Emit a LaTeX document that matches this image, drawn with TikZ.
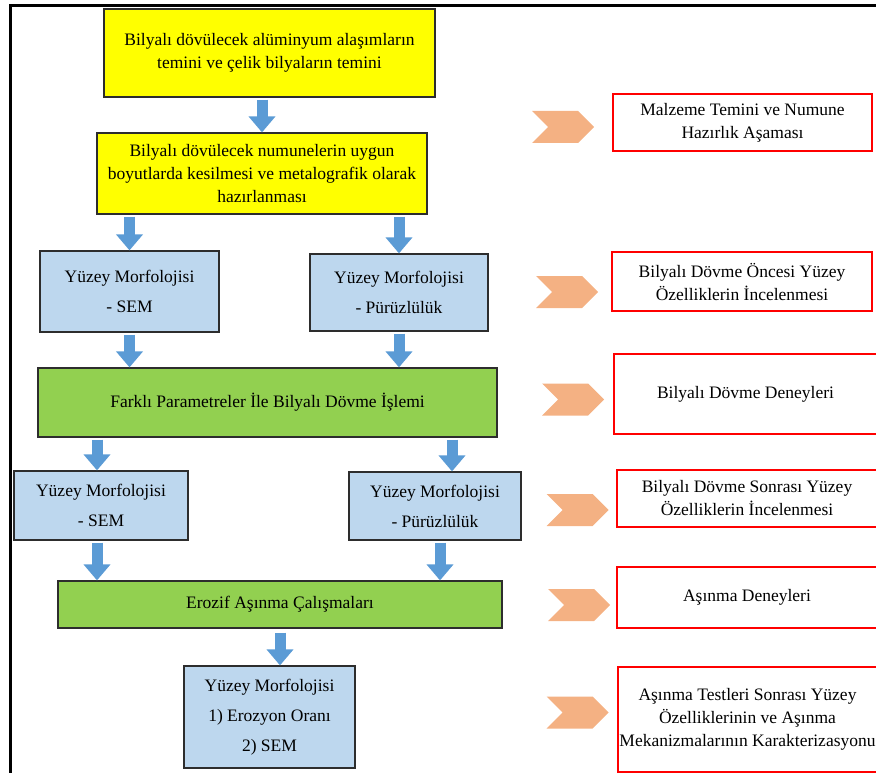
\documentclass[tikz,border=0pt]{standalone}
\usepackage{fontspec}
\setmainfont{Liberation Serif}
\usepackage{tikz}
\usetikzlibrary{arrows.meta, shapes.symbols}
\definecolor{boxyellow}{RGB}{255,255,0}
\definecolor{boxblue}{RGB}{189,215,238}
\definecolor{boxgreen}{RGB}{146,208,80}
\definecolor{arrblue}{RGB}{91,155,213}
\definecolor{chevorange}{RGB}{244,177,131}
\definecolor{edgegray}{RGB}{45,45,45}
\definecolor{stagered}{RGB}{255,0,0}

\begin{document}
\begin{tikzpicture}[x=1pt, y=-1pt,
  ybox/.style={rectangle, draw=edgegray, fill=boxyellow, line width=1.2pt,
               align=center, inner sep=0pt, font=\fontsize{17.5}{23}\selectfont},
  bbox/.style={rectangle, draw=edgegray, fill=boxblue, line width=1.2pt,
               align=center, inner sep=0pt, font=\fontsize{17.5}{30}\selectfont},
  gbox/.style={rectangle, draw=edgegray, fill=boxgreen, line width=1.2pt,
               align=center, inner sep=0pt, font=\fontsize{17.5}{23}\selectfont},
  rbox/.style={rectangle, draw=stagered, line width=1.2pt,
               align=center, inner sep=0pt, font=\fontsize{17.5}{23}\selectfont},
  chev/.style={signal, signal from=west, signal to=east, fill=chevorange,
               inner sep=0pt, minimum width=62pt, minimum height=32pt},
  blk/.style={-{Triangle[width=26pt, length=16pt]}, line width=11pt,
              draw=arrblue, shorten <=2pt},
  frame/.style={line width=3pt, draw=black}
]
\useasboundingbox (0,0) rectangle (876,773);

% page frame
\draw[frame] (10.5,773) -- (10.5,5.5) -- (877,5.5);

% main flow
\node[ybox, minimum width=331pt, minimum height=88pt] (yb1) at (269.5,53)
  {Bilyalı dövülecek alüminyum alaşımların\\temini ve çelik bilyaların temini};
\node[ybox, minimum width=330pt, minimum height=81pt] (yb2) at (262,173.5)
  {Bilyalı dövülecek numunelerin uygun\\boyutlarda kesilmesi ve metalografik olarak\\hazırlanması};
\node[bbox, minimum width=179pt, minimum height=81pt] (sem1) at (129.5,291.5)
  {Yüzey Morfolojisi\\- SEM};
\node[bbox, minimum width=178pt, minimum height=77pt] (pur1) at (399,292.5)
  {Yüzey Morfolojisi\\- Pürüzlülük};
\node[gbox, minimum width=459pt, minimum height=69pt] (gr1) at (267.5,402.5)
  {Farklı Parametreler İle Bilyalı Dövme İşlemi};
\node[bbox, minimum width=174pt, minimum height=69pt] (sem2) at (101,505.5)
  {Yüzey Morfolojisi\\- SEM};
\node[bbox, minimum width=172pt, minimum height=68pt] (pur2) at (435,506)
  {Yüzey Morfolojisi\\- Pürüzlülük};
\node[gbox, minimum width=444pt, minimum height=47pt] (gr2) at (280,604.5)
  {Erozif Aşınma Çalışmaları};
\node[bbox, minimum width=171pt, minimum height=102pt] (sem3) at (269.5,717)
  {Yüzey Morfolojisi\\1) Erozyon Oranı\\2) SEM};

\draw[blk] (yb1.south -| yb2) -- (yb2);
\draw[blk] (yb2.south -| sem1) -- (sem1);
\draw[blk] (yb2.south -| pur1) -- (pur1);
\draw[blk] (sem1) -- (sem1 |- gr1.north);
\draw[blk] (pur1) -- (pur1 |- gr1.north);
\draw[blk] ([xshift=-4pt]gr1.south -| sem2) -- ([xshift=-4pt]sem2.north);
\draw[blk] ([xshift=17pt]gr1.south -| pur2) -- ([xshift=17pt]pur2.north);
\draw[blk] ([xshift=-4pt]sem2.south) -- ([xshift=-4pt]sem2.south |- gr2.north);
\draw[blk] ([xshift=5pt]pur2.south) -- ([xshift=5pt]pur2.south |- gr2.north);
\draw[blk] ([yshift=-2pt]gr2.south) -- (gr2.south |- sem3.north);

% stages on the right
\node[chev] (chv1) at (563,127) {};
\node[chev] (chv2) at (567,292) {};
\node[chev] (chv3) at (573,399.5) {};
\node[chev] (chv4) at (577.5,510) {};
\node[chev] (chv5) at (579,605) {};
\node[chev] (chv6) at (577.5,712.5) {};

\node[rbox, minimum width=259pt, minimum height=57pt] (st1) at (742.5,122.5)
  {Malzeme Temini ve Numune\\Hazırlık Aşaması};
\node[rbox, minimum width=260pt, minimum height=59pt] (st2) at (742,281.5)
  {Bilyalı Dövme Öncesi Yüzey\\Özelliklerin İncelenmesi};
\node[rbox, minimum width=263pt, minimum height=80pt] (st3) at (745.5,394)
  {Bilyalı Dövme Deneyleri};
\node[rbox, minimum width=260pt, minimum height=57pt] (st4) at (747,498.5)
  {Bilyalı Dövme Sonrası Yüzey\\Özelliklerin İncelenmesi};
\node[rbox, minimum width=260pt, minimum height=61pt] (st5) at (747,597.5)
  {Aşınma Deneyleri};
\node[rbox, minimum width=259pt, minimum height=105pt] (st6) at (747.5,719.5)
  {Aşınma Testleri Sonrası Yüzey\\Özelliklerinin ve Aşınma\\Mekanizmalarının Karakterizasyonu};

\end{tikzpicture}
\end{document}
